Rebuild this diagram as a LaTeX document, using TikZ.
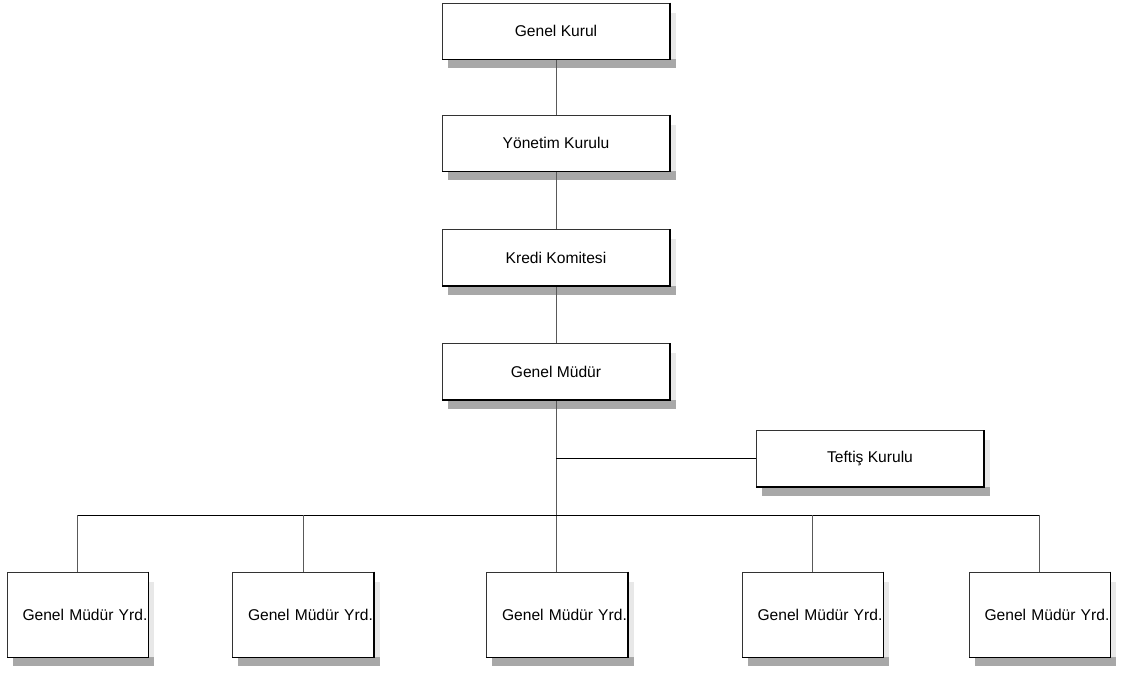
\documentclass[tikz,border=0pt]{standalone}
\usepackage{fontspec}
\setmainfont{Liberation Sans}
\usetikzlibrary{backgrounds}

% drop shadow below and to the right of a box, plus heavier right/bottom edge
\newcommand\orgshadow[1]{%
  \begin{scope}[on background layer]
    \fill[gray!68] ([xshift=4.5pt]#1.south west) rectangle ([xshift=4.5pt,yshift=-6.75pt]#1.south east);
    \fill[gray!18] (#1.south east) rectangle ([xshift=4.5pt,yshift=-7.5pt]#1.north east);
  \end{scope}
  \draw[line width=1.1pt] (#1.north east) -- (#1.south east) -- (#1.south west);
}

\begin{document}
\begin{tikzpicture}[x=0.75pt,y=-0.75pt,
  orgbox/.style={draw=black!80, line width=0.5pt, fill=white, rectangle,
    inner sep=0pt, font=\fontsize{11.7}{14}\selectfont},
  topbox/.style={orgbox, minimum width=170.25pt, minimum height=42pt},
  yrdbox/.style={orgbox, minimum width=105.75pt, minimum height=63.75pt,
    text width=104.8pt, align=right},
  vline/.style={draw=black!65, line width=0.45pt},
  hline/.style={draw=black, line width=0.75pt},
]
\useasboundingbox (0,0) rectangle (1121,674);

% main chain
\node[topbox] (gk) at (556,31)    {Genel Kurul};
\node[topbox] (yk) at (556,143)   {Yönetim Kurulu};
\node[topbox] (kk) at (556,257.5) {Kredi Komitesi};
\node[topbox] (gm) at (556,371.5) {Genel Müdür};
\node[topbox] (tk) at (870,458.5) {Teftiş Kurulu};

% assistant general managers
\node[yrdbox] (gmy1) at (77.5,614.5)  {Genel Müdür Yrd.};
\node[yrdbox] (gmy2) at (303,614.5)   {Genel Müdür Yrd.};
\node[yrdbox] (gmy3) at (557,614.5)   {Genel Müdür Yrd.};
\node[yrdbox] (gmy4) at (812.5,614.5) {Genel Müdür Yrd.};
\node[yrdbox] (gmy5) at (1039.5,614.5){Genel Müdür Yrd.};

% connectors
\coordinate (bus) at (0,515);
\draw[vline] (gk) -- (yk);
\draw[vline] (yk) -- (kk);
\draw[vline] (kk) -- (gm);
\draw[vline] (gm.south) -- (gm.south |- gmy3.north);
\draw[hline] (gm.south |- tk.west) -- (tk.west);
\draw[hline] (gmy1.north |- bus) -- (gmy5.north |- bus);
\foreach \n in {gmy1,gmy2,gmy4,gmy5}
  {\draw[vline] (\n.north |- bus) -- (\n.north);}

% shadows
\foreach \n in {gk,yk,kk,gm,tk,gmy1,gmy2,gmy3,gmy4,gmy5}
  {\orgshadow{\n}}
\end{tikzpicture}
\end{document}
